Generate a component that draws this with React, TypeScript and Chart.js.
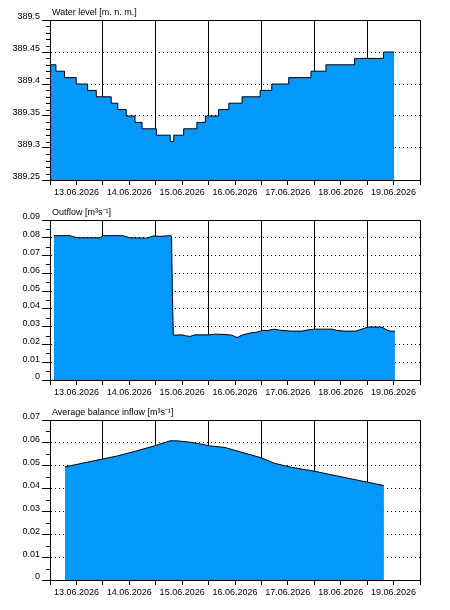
import React, { useEffect, useRef } from 'react';
import { Chart, registerables } from 'chart.js';

Chart.register(...registerables);

// Tick labels (one per day, shown at noon)
const dayLabels = ['13.06.2026', '14.06.2026', '15.06.2026', '16.06.2026', '17.06.2026', '18.06.2026', '19.06.2026'];

// Times are hours since 13.06.2026 00:00
const waterHours = [0, 2.7, 6.6, 11.9, 17.1, 21.0, 27.8, 30.8, 34.6, 38.6, 41.8, 48.3, 54.6, 56.2, 60.7, 66.7, 70.5, 76.5, 81.2, 87.2, 95.4, 100.7, 108.4, 118.5, 125.3, 138.3, 151.4, 156.2];
const waterLevels = [389.43, 389.42, 389.41, 389.40, 389.39, 389.38, 389.37, 389.36, 389.35, 389.34, 389.33, 389.32, 389.31, 389.32, 389.33, 389.34, 389.35, 389.36, 389.37, 389.38, 389.39, 389.40, 389.41, 389.42, 389.43, 389.44, 389.45, 389.45];

const outflowHours = [1.8, 9.1, 12.3, 22.7, 24.1, 33.1, 36.3, 44.0, 46.8, 49.9, 54.5, 55.2, 55.6, 56.0, 59.9, 61.3, 63.6, 65.8, 72.6, 74.9, 79.5, 82.6, 84.9, 87.6, 90.8, 94.4, 96.2, 99.0, 101.7, 104.4, 109.0, 114.4, 117.1, 120.3, 128.0, 130.3, 133.9, 138.9, 141.6, 144.4, 150.7, 152.5, 154.4, 156.6];
const outflowValues = [0.0812, 0.0812, 0.0800, 0.0800, 0.0812, 0.0812, 0.0800, 0.0798, 0.0810, 0.0808, 0.0812, 0.0810, 0.047, 0.0252, 0.0254, 0.0249, 0.0245, 0.0254, 0.0254, 0.0258, 0.0256, 0.0252, 0.0239, 0.0254, 0.0264, 0.0270, 0.0279, 0.0279, 0.0286, 0.0280, 0.0275, 0.0275, 0.0282, 0.0286, 0.0286, 0.0279, 0.0275, 0.0275, 0.0286, 0.0298, 0.0298, 0.0284, 0.0275, 0.0275];

const inflowHours = [6.8, 24.2, 30.3, 37.8, 48.3, 54.5, 57.5, 63.6, 69.6, 72.3, 79.4, 87.0, 95.8, 102.1, 109.7, 120.0, 132.4, 144.1, 151.6];
const inflowValues = [0.0495, 0.0530, 0.0542, 0.0561, 0.0589, 0.0609, 0.0609, 0.0603, 0.0593, 0.0587, 0.0580, 0.0559, 0.0535, 0.0510, 0.0493, 0.0476, 0.0451, 0.0428, 0.0413];

const FILL = 'rgb(3,152,252)';
const FONT = { family: '"Liberation Sans", Arial, sans-serif', size: 9 };

type PanelCfg = {
  title: string;
  hours: number[];
  values: number[];
  min: number;
  max: number;
  major: number;
  minor: number;
  stepped: boolean;
};

const panels: PanelCfg[] = [
  { title: 'Water level [m. n. m.]', hours: waterHours, values: waterLevels, min: 389.25, max: 389.5, major: 0.05, minor: 0.01, stepped: true },
  { title: 'Outflow [m³s⁻¹]', hours: outflowHours, values: outflowValues, min: 0, max: 0.09, major: 0.01, minor: 0.005, stepped: false },
  { title: 'Average balance inflow [m³s⁻¹]', hours: inflowHours, values: inflowValues, min: 0, max: 0.07, major: 0.01, minor: 0.005, stepped: false },
];

function framePlugin(p: PanelCfg) {
  return {
    id: 'frame',
    afterDraw(chart: any) {
      const { ctx, chartArea: a } = chart;
      const ys = chart.scales.y;
      ctx.save();
      ctx.strokeStyle = '#000';
      ctx.lineWidth = 1;
      ctx.setLineDash([]);
      const l = Math.round(a.left) + 0.5;
      const t = Math.round(a.top) + 0.5;
      ctx.strokeRect(l, t, Math.round(a.right - a.left), Math.round(a.bottom - a.top));
      const n = Math.round((p.max - p.min) / p.minor);
      const ratio = Math.round(p.major / p.minor);
      ctx.beginPath();
      for (let i = 0; i <= n; i++) {
        if (i % ratio === 0) continue;
        const y = Math.round(ys.getPixelForValue(p.min + i * p.minor)) + 0.5;
        ctx.moveTo(a.left - 4, y);
        ctx.lineTo(a.left, y);
      }
      ctx.stroke();
      ctx.fillStyle = '#000';
      ctx.font = '9px "Liberation Sans", Arial, sans-serif';
      ctx.textAlign = 'left';
      ctx.textBaseline = 'alphabetic';
      ctx.fillText(p.title, a.left + 2, 14.5);
      ctx.restore();
    },
  };
}

function buildConfig(p: PanelCfg): any {
  return {
    type: 'line',
    data: {
      datasets: [
        {
          data: p.hours.map((h, i) => ({ x: h, y: p.values[i] })),
          borderColor: '#000',
          borderWidth: 1,
          backgroundColor: FILL,
          fill: 'origin',
          pointRadius: 0,
          tension: 0,
          stepped: p.stepped ? 'before' : false,
        },
      ],
    },
    options: {
      animation: false,
      responsive: false,
      devicePixelRatio: 1,
      layout: { padding: { left: 0, right: 30, top: 20, bottom: 0 } },
      plugins: { legend: { display: false }, tooltip: { enabled: false }, title: { display: false } },
      scales: {
        x: {
          type: 'linear',
          min: 0,
          max: 168,
          z: 1,
          afterFit: (s: any) => { s.height = 20; },
          ticks: {
            stepSize: 12,
            autoSkip: false,
            maxRotation: 0,
            minRotation: 0,
            padding: 2,
            color: '#000',
            font: FONT,
            callback: (v: number) => (Math.round(v) % 24 === 12 ? dayLabels[Math.floor(v / 24)] : ''),
          },
          grid: {
            color: (c: any) => (c.tick && Math.round(c.tick.value) % 24 === 0 ? '#000' : 'rgba(0,0,0,0)'),
            tickColor: '#000',
            tickLength: 5,
            lineWidth: 1,
          },
          border: { display: true, color: '#000', dash: [] },
        },
        y: {
          type: 'linear',
          min: p.min,
          max: p.max,
          z: 1,
          afterFit: (s: any) => { s.width = 50; },
          ticks: {
            stepSize: p.major,
            padding: 2,
            labelOffset: -3,
            color: '#000',
            font: FONT,
            callback: (v: number) => parseFloat(Number(v).toFixed(3)).toString(),
          },
          grid: {
            color: '#000',
            tickColor: '#000',
            tickLength: 8,
            lineWidth: 1,
          },
          border: { display: true, color: '#000', dash: [1, 3] },
        },
      },
    },
    plugins: [framePlugin(p)],
  };
}

function Panel({ cfg }: { cfg: PanelCfg }) {
  const ref = useRef<HTMLCanvasElement>(null);
  useEffect(() => {
    const chart = new Chart(ref.current as HTMLCanvasElement, buildConfig(cfg));
    return () => chart.destroy();
  }, [cfg]);
  return <canvas ref={ref} width={450} height={200} style={{ display: 'block', width: 450, height: 200 }} />;
}

export default function App() {
  return (
    <div style={{ position: 'absolute', left: 0, top: 0, width: 450, height: 610, background: '#fff' }}>
      {panels.map((p) => (
        <Panel key={p.title} cfg={p} />
      ))}
    </div>
  );
}
